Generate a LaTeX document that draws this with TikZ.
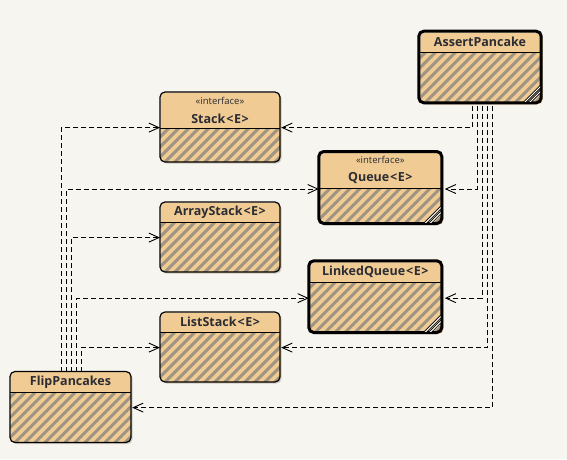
\documentclass[tikz,border=0pt]{standalone}
\usepackage{fontspec}
\setmainfont{Open Sans}
\usetikzlibrary{arrows.meta}
\definecolor{bg}{HTML}{F7F5F0}
\definecolor{hdr}{HTML}{F0CB94}
\definecolor{stripecol}{HTML}{A09482}
\definecolor{txt}{HTML}{2C2C33}
\tikzset{
  dep/.style={draw=black, line width=0.9pt, dash pattern=on 5pt off 3pt,
    -{Straight Barb[length=10pt,width=9pt,line width=0.9pt]}},
  titletext/.style={font=\fontsize{12.5}{14}\selectfont\bfseries, text=txt, inner sep=0pt},
  stereotext/.style={font=\fontsize{9.5}{11}\selectfont, text=txt, inner sep=0pt},
}
% #1 name, #2 x1, #3 y1, #4 x2, #5 y2, #6 y header, #7 line width, #8 title, #9 stereotype
\newcommand\umlclass[9]{%
  \pgfmathsetmacro\cw{#4-#2}\pgfmathsetmacro\ch{#5-#3}%
  \fill[black, opacity=0.18, rounded corners=5pt] (#2+1.5,#3+1.5) rectangle (#4+1.5,#5+1.5);
  \node[fill=hdr, draw=none, rounded corners=5pt, inner sep=0pt, outer sep=#7/2,
        minimum width=\cw pt, minimum height=\ch pt, anchor=north west] (#1) at (#2,#3) {};
  \begin{scope}
    \clip[rounded corners=5pt] (#2,#3) rectangle (#4,#5);
    \clip (#2,#6) rectangle (#4,#5);
    \foreach \t in {-120,-110,...,560}
      \draw[stripecol, line width=3pt] (\t,#5+5) -- ++(100,-100);
  \end{scope}
  \draw[line width=0.8pt] (#2,#6) -- (#4,#6);
  \draw[line width=#7, rounded corners=5pt] (#2,#3) rectangle (#4,#5);
  \ifx&#9&%
    \node[titletext] at ({(#2+#4)/2},{(#3+#6)/2}) {#8};
  \else
    \node[stereotext] at ({(#2+#4)/2},#3+8.5) {#9};
    \node[titletext] at ({(#2+#4)/2},#6-10) {#8};
  \fi
}
\newcommand\grip[2]{%
  \begin{scope}
    \clip (#1-18,#2-18) rectangle (#1-1.2,#2-1.2);
    \draw[line width=2.6pt] (#1-17,#2) -- (#1,#2-17);
    \draw[white, line width=1pt] (#1-17,#2) -- (#1,#2-17);
    \draw[line width=2.6pt] (#1-12,#2) -- (#1,#2-12);
    \draw[white, line width=1pt] (#1-12,#2) -- (#1,#2-12);
  \end{scope}
}
\begin{document}
\begin{tikzpicture}[x=1pt,y=-1pt]
\fill[bg] (0,0) rectangle (567,459);
\useasboundingbox (0,0) rectangle (567,459);

\umlclass{assert}{418.8}{31.2}{541.2}{102.8}{52.3}{3pt}{AssertPancake}{}
\grip{541.2}{102.8}
\umlclass{stack}{160}{92}{280}{162}{128.5}{1.2pt}{Stack\kern1pt<\kern0.5pt E\kern0.5pt>}{«interface»}
\umlclass{queue}{318.8}{151.5}{441.8}{223.5}{188.3}{3pt}{Queue\kern1pt<\kern0.5pt E\kern0.5pt>}{«interface»}
\grip{441.8}{223.5}
\umlclass{astack}{160}{202}{280}{272}{222.5}{1.2pt}{ArrayStack\kern1pt<\kern0.5pt E\kern0.5pt>}{}
\umlclass{lqueue}{308.8}{260.8}{441.8}{332.5}{282.3}{3pt}{LinkedQueue\kern1pt<\kern0.5pt E\kern0.5pt>}{}
\grip{441.8}{332.5}
\umlclass{lstack}{160}{312}{280}{382}{332.5}{1.2pt}{ListStack\kern1pt<\kern0.5pt E\kern0.5pt>}{}
\umlclass{flip}{10}{371.5}{131}{442.5}{392.5}{1.2pt}{FlipPancakes}{}

\draw[dep] ([xshift=-9.5pt]assert.south) |- (stack.east);
\draw[dep] ([xshift=-4.5pt]assert.south) |- (queue.east);
\draw[dep] ([xshift=0.5pt]assert.south) |- (lqueue.east);
\draw[dep] ([xshift=5.5pt]assert.south) |- (lstack.east);
\draw[dep] ([xshift=10.5pt]assert.south) |- (flip.east);

\draw[dep] ([xshift=-10pt]flip.north) |- (stack.west);
\draw[dep] ([xshift=-5pt]flip.north) |- (queue.west);
\draw[dep] (flip.north) |- (astack.west);
\draw[dep] ([xshift=5pt]flip.north) |- (lqueue.west);
\draw[dep] ([xshift=10pt]flip.north) |- (lstack.west);
\end{tikzpicture}
\end{document}
